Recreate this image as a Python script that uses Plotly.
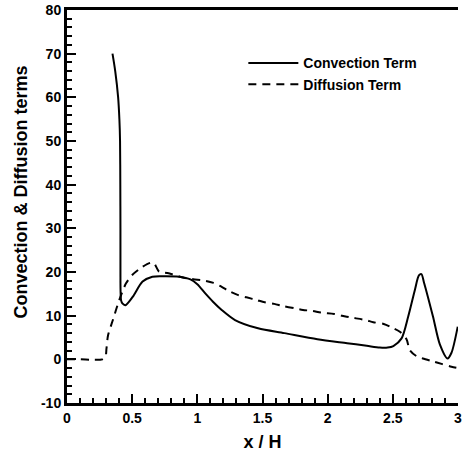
import plotly.graph_objects as go

# Convection term (solid)
conv_x = [0.349, 0.37, 0.392, 0.402, 0.407, 0.409, 0.41, 0.41, 0.411, 0.415, 0.425, 0.448, 0.504, 0.58, 0.655,
          0.75, 0.858, 0.947, 1.0, 1.061, 1.12, 1.187, 1.289, 1.466, 1.668, 1.921, 2.149, 2.30,
          2.40, 2.46, 2.504, 2.567, 2.618, 2.67, 2.70, 2.719, 2.74, 2.808, 2.86, 2.92, 2.95, 2.998]
conv_y = [70, 66.0, 60.1, 55, 50, 40, 30, 20, 15.5, 13.5, 12.8, 12.4, 14.3, 17.8, 18.9,
          19.0, 18.9, 18.3, 17.2, 15.1, 13.2, 11.3, 9.0, 7.1, 6.0, 4.6, 3.7, 3.1,
          2.7, 2.7, 3.05, 4.8, 9.8, 16.0, 19.2, 19.5, 17.5, 9.8, 3.5, 0.2, 1.5, 7.5]

# Diffusion term (dashed)
diff_x = [0.0, 0.1, 0.2, 0.27, 0.295, 0.303, 0.315, 0.352, 0.40, 0.453, 0.50, 0.58, 0.64, 0.668,
          0.706, 0.78, 0.909, 1.06, 1.124, 1.187, 1.238, 1.314, 1.377, 1.453, 1.517, 1.59,
          1.656, 1.744, 1.81, 1.884, 1.947, 2.05, 2.11, 2.175, 2.29, 2.35, 2.43, 2.49, 2.554,
          2.605, 2.63, 2.68, 2.73, 2.81, 2.88, 2.95, 3.0]
diff_y = [0.0, 0.0, -0.1, 0.0, 0.6, 2.5, 5.5, 9.0, 13.5, 17.4, 19.3, 21.2, 22.1, 22.0,
          20.1, 19.7, 18.6, 18.0, 17.5, 16.6, 15.7, 14.7, 14.2, 13.6, 13.06, 12.7,
          12.2, 11.7, 11.3, 11.1, 10.7, 10.4, 10.0, 9.6, 9.0, 8.5, 8.1, 7.3, 6.3,
          4.6, 2.1, 0.76, 0.2, -0.5, -1.1, -1.7, -2.0]

x_ticks = [0, 0.5, 1, 1.5, 2, 2.5, 3]
x_tick_labels = ["0", "0.5", "1", "1.5", "2", "2.5", "3"]
y_ticks = [-10, 0, 10, 20, 30, 40, 50, 60, 70, 80]
y_tick_labels = ["-10", "0", "10", "20", "30", "40", "50", "60", "70", "80"]

FONT = "Liberation Sans, Arial, sans-serif"

fig = go.Figure()
fig.add_trace(go.Scatter(x=conv_x, y=conv_y, mode="lines", name="Convection Term",
                         line=dict(color="black", width=2, shape="spline", smoothing=0.8)))
fig.add_trace(go.Scatter(x=diff_x, y=diff_y, mode="lines", name="Diffusion Term",
                         line=dict(color="black", width=2, dash="8px,6px", shape="spline", smoothing=0.8)))

fig.update_layout(
    width=462, height=452,
    margin=dict(l=67, r=0, t=10, b=49),
    plot_bgcolor="white", paper_bgcolor="white",
    font=dict(family=FONT, color="black"),
    showlegend=True,
    legend=dict(x=0.451, y=0.905, xanchor="left", yanchor="top",
                font=dict(family=FONT, size=14, color="black", weight="bold"),
                bgcolor="rgba(0,0,0,0)", tracegroupgap=0, itemwidth=50),
    annotations=[dict(text="Convection & Diffusion terms", xref="paper", yref="paper",
                      x=-0.119, y=0.537, xanchor="center", yanchor="middle", textangle=-90,
                      showarrow=False,
                      font=dict(family=FONT, size=18, color="black", weight="bold"))],
)
fig.update_xaxes(
    range=[0, 3], tickmode="array", tickvals=x_ticks, ticktext=x_tick_labels,
    ticks="inside", ticklen=9, tickwidth=2, tickcolor="black",
    minor=dict(ticks="inside", ticklen=5, tickwidth=2, tickcolor="black", dtick=0.1),
    showline=True, linewidth=3, linecolor="black", mirror=True,
    showgrid=False, zeroline=False, ticklabeloverflow="allow",
    tickfont=dict(family=FONT, size=14, color="black", weight="bold"),
    title=dict(text="x / H", font=dict(family=FONT, size=18, color="black", weight="bold"), standoff=12),
)
fig.update_yaxes(
    range=[-10, 80], tickmode="array", tickvals=y_ticks, ticktext=y_tick_labels,
    ticks="inside", ticklen=9, tickwidth=2, tickcolor="black",
    minor=dict(ticks="inside", ticklen=5, tickwidth=2, tickcolor="black", dtick=2),
    showline=True, linewidth=3, linecolor="black",
    showgrid=False, zeroline=False,
    tickfont=dict(family=FONT, size=14, color="black", weight="bold"),
)

fig.write_html("out.html")
